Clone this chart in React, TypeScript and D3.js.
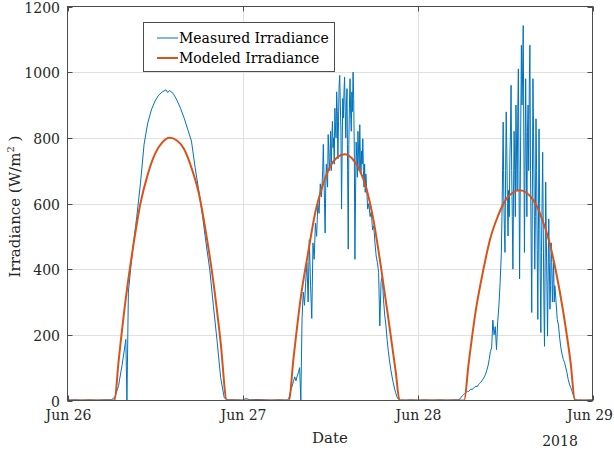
import * as d3 from "d3";

// x axis is hours since Jun 26 00:00
const xTickHours = [0, 24, 48, 72];
const xTickLabels = ["Jun 26", "Jun 27", "Jun 28", "Jun 29"];
const yTicks = [0, 200, 400, 600, 800, 1000, 1200];

// modeled irradiance (hour, W/m2)
const modeledHours = [
  0, 6.45, 7, 8, 9, 10, 11, 12, 13, 14, 15, 16, 17, 18, 19, 20, 21, 21.85,
  30.35, 31, 32, 33, 34, 35, 36, 37, 38, 39, 40, 41, 42, 43, 44, 45, 45.55,
  54.4, 55, 56, 57, 58, 59, 60, 61, 62, 63, 64, 65, 66, 67, 68, 69, 69.6, 72,
];
const modeledValues = [
  0, 0, 118, 312, 468, 600, 688, 751, 786, 800, 792, 765, 709, 632, 510, 362, 178, 0,
  0, 130, 315, 450, 575, 655, 712, 741, 750, 738, 705, 645, 545, 405, 250, 90, 0,
  0, 110, 275, 395, 495, 560, 608, 632, 640, 632, 606, 558, 490, 392, 268, 115, 0, 0,
];

// measured irradiance, clear first day (hour, W/m2)
const day1Measured: [number, number][] = [
  [0, 1], [1, 2], [2, 1], [3, 2], [4, 1], [5, 2], [6, 2], [6.5, 10], [7, 45], [7.5, 110],
  [8, 186], [8.15, 0], [8.35, 330], [8.7, 410], [9, 470], [9.5, 560], [10, 660], [10.5, 780],
  [11, 845], [11.5, 885], [12, 912], [12.5, 930], [13, 940], [13.5, 946], [13.75, 938], [14, 944],
  [14.5, 935], [15, 915], [15.5, 890], [16, 860], [16.5, 825], [17, 790], [17.5, 710],
  [18, 640], [18.5, 565], [19, 480], [19.5, 400], [20, 290], [20.5, 185], [21, 70],
  [21.5, 8], [22, 2], [23, 2], [24, 1], [24.5, 6], [25, 2], [26, 3], [27, 2], [28, 1], [29, 2],
];

// Jun 27: morning at 10 min, midday at 5 min, afternoon at 10 min
const day2MorningStart = 30;
const day2Morning = [
  1, 2, 5, 20, 35, 45, 60, 72, 60, 75, 85, 100, 0, 250, 330, 290, 360, 420, 300, 490,
  350, 250, 480, 430, 540, 500, 600, 570, 660, 620,
];
const day2MiddayStart = 35;
const day2Midday = [
  700, 780, 690, 600, 510, 650, 720, 680, 650, 810, 760, 700, 740, 820, 700, 790, 850, 770,
  800, 720, 890, 830, 800, 940, 880, 736, 850, 960, 990, 900, 820, 583, 760, 920, 860, 940,
  985, 880, 800, 900, 950, 700, 461, 780, 900, 980, 870, 820, 940, 880, 1000, 920, 760, 430,
  620, 787, 740, 680, 820, 760, 700, 840, 736, 690, 760, 720, 797, 700, 650, 720, 634, 690, 660,
];
const day2AfternoonStart = 41 + 1 / 6;
const day2Afternoon = [
  583, 600, 560, 575, 520, 532, 480, 440, 420, 390, 227, 360, 380, 308, 260, 230, 185, 150,
  120, 95, 74, 55, 38, 24, 12, 5, 2, 1, 2, 1,
];
const nightMeasured: [number, number][] = [
  [46.5, 1], [47, 2], [48, 1], [49, 2], [50, 1], [51, 2], [52, 1], [53, 2],
];
// Jun 28
const day3MorningStart = 53.5;
const day3Morning = [
  2, 3, 5, 10, 15, 18, 22, 25, 28, 27, 32, 35, 33, 38, 40, 44, 42, 48, 52, 55,
  60, 66, 72, 80, 92, 105, 125, 150, 160, 245, 200, 225, 155, 240, 290, 360,
];
const day3MiddayStart = 59.5;
const day3Midday = [
  450, 560, 700, 848, 620, 520, 451, 700, 879, 760, 600, 501, 640, 560, 736, 820, 960, 700,
  560, 400, 620, 820, 700, 560, 900, 760, 640, 880, 1010, 700, 370, 620, 860, 1082, 900, 1000,
  1142, 800, 451, 700, 980, 760, 560, 820, 900, 700, 960, 1082, 700, 480, 268, 620, 980, 820,
  620, 400, 560, 858, 700, 460, 247, 520, 827, 600, 380, 207, 450, 600, 756, 520, 300, 165,
  400, 665, 500, 350, 196, 380, 553, 420, 278, 350, 480, 420, 300, 369, 420, 300, 350, 330, 300,
];
const day3AfternoonStart = 67 + 1 / 6;
const day3Afternoon = [
  247, 230, 190, 160, 140, 125, 116, 100, 85, 64, 50, 40, 30, 18, 8, 3, 2, 1, 1, 2, 1,
];
const endMeasured: [number, number][] = [[71, 1], [72, 2]];

const spread = (start: number, stepH: number, vals: number[]) =>
  vals.map((v, i) => [start + i * stepH, v] as [number, number]);

const measured: [number, number][] = [
  ...day1Measured,
  ...spread(day2MorningStart, 1 / 6, day2Morning),
  ...spread(day2MiddayStart, 1 / 12, day2Midday),
  ...spread(day2AfternoonStart, 1 / 6, day2Afternoon),
  ...nightMeasured,
  ...spread(day3MorningStart, 1 / 6, day3Morning),
  ...spread(day3MiddayStart, 1 / 12, day3Midday),
  ...spread(day3AfternoonStart, 1 / 6, day3Afternoon),
  ...endMeasured,
];
const modeled: [number, number][] = modeledHours.map((h, i) => [h, modeledValues[i]]);

const W = 614, H = 454;
const left = 67.5, right = 592.5, top = 6.5, bottom = 400.5;
const font = "DejaVu Serif";
const blue = "#0072BD";
const orange = "#D95319";

export default function App() {
  const x = d3.scaleLinear().domain([0, 72]).range([left, right]);
  const y = d3.scaleLinear().domain([0, 1200]).range([bottom, top]);

  const measuredLine = d3.line<[number, number]>()
    .x(d => x(d[0]))
    .y(d => y(d[1]));
  const modeledLine = d3.line<[number, number]>()
    .x(d => x(d[0]))
    .y(d => y(d[1]))
    .curve(d3.curveMonotoneX);

  const axisColor = "#4d4d4d";
  const gridColor = "#e0e0e0";
  const tickLen = 5;

  return (
    <svg width={W} height={H} style={{ position: "absolute", left: 0, top: 0, background: "#fff" }}
      fontFamily={font}>
      <defs>
        <clipPath id="plotClip">
          <rect x={left} y={top} width={right - left} height={bottom - top} />
        </clipPath>
      </defs>

      {/* grid */}
      {yTicks.slice(1, -1).map(t => (
        <line key={"gy" + t} x1={left} x2={right} y1={Math.round(y(t)) + 0.5} y2={Math.round(y(t)) + 0.5}
          stroke={gridColor} strokeWidth={1} />
      ))}
      {xTickHours.slice(1, -1).map(t => (
        <line key={"gx" + t} y1={top} y2={bottom} x1={Math.round(x(t)) + 0.5} x2={Math.round(x(t)) + 0.5}
          stroke={gridColor} strokeWidth={1} />
      ))}

      {/* data */}
      <g clipPath="url(#plotClip)">
        <path d={measuredLine(measured) ?? ""} fill="none" stroke={blue} strokeWidth={1} strokeLinejoin="round" />
        <path d={modeledLine(modeled) ?? ""} fill="none" stroke={orange} strokeWidth={2} strokeLinejoin="round" />
      </g>

      {/* axes box and ticks */}
      <rect x={left} y={top} width={right - left} height={bottom - top} fill="none" stroke={axisColor} strokeWidth={1} />
      {yTicks.map(t => {
        const yy = Math.round(y(t)) + 0.5;
        return (
          <g key={"ty" + t}>
            <line x1={left} x2={left + tickLen} y1={yy} y2={yy} stroke={axisColor} />
            <line x1={right - tickLen} x2={right} y1={yy} y2={yy} stroke={axisColor} />
            <text x={60} y={yy} textAnchor="end" dominantBaseline="central" fontSize={14} fill="#262626">{t}</text>
          </g>
        );
      })}
      {xTickHours.map((t, i) => {
        const xx = Math.round(x(t)) + 0.5;
        const last = i === xTickHours.length - 1;
        return (
          <g key={"tx" + t}>
            <line x1={xx} x2={xx} y1={bottom} y2={bottom - tickLen} stroke={axisColor} />
            <line x1={xx} x2={xx} y1={top} y2={top + tickLen} stroke={axisColor} />
            <text x={last ? 613 : xx} y={420} textAnchor={last ? "end" : "middle"} fontSize={14} fill="#262626">
              {xTickLabels[i]}
            </text>
          </g>
        );
      })}

      {/* axis labels */}
      <text x={330} y={443} textAnchor="middle" fontSize={15} fill="#262626">Date</text>
      <text x={560} y={446} textAnchor="middle" fontSize={14} fill="#262626">2018</text>
      <text transform={`translate(20, ${(top + bottom) / 2 + 3}) rotate(-90)`} textAnchor="middle" fontSize={15} fill="#262626">
        Irradiance (W/m<tspan dy={-6} fontSize={10}>2</tspan><tspan dy={6}> )</tspan>
      </text>

      {/* legend */}
      <rect x={143.5} y={22.5} width={191} height={49} fill="#fff" stroke={axisColor} strokeWidth={1} />
      <line x1={157} x2={178} y1={38} y2={38} stroke={blue} strokeWidth={1} />
      <line x1={157} x2={178} y1={58} y2={58} stroke={orange} strokeWidth={2} />
      <text x={179} y={38} dominantBaseline="central" fontSize={14} fill="#000">Measured Irradiance</text>
      <text x={179} y={58} dominantBaseline="central" fontSize={14} fill="#000">Modeled Irradiance</text>
    </svg>
  );
}
